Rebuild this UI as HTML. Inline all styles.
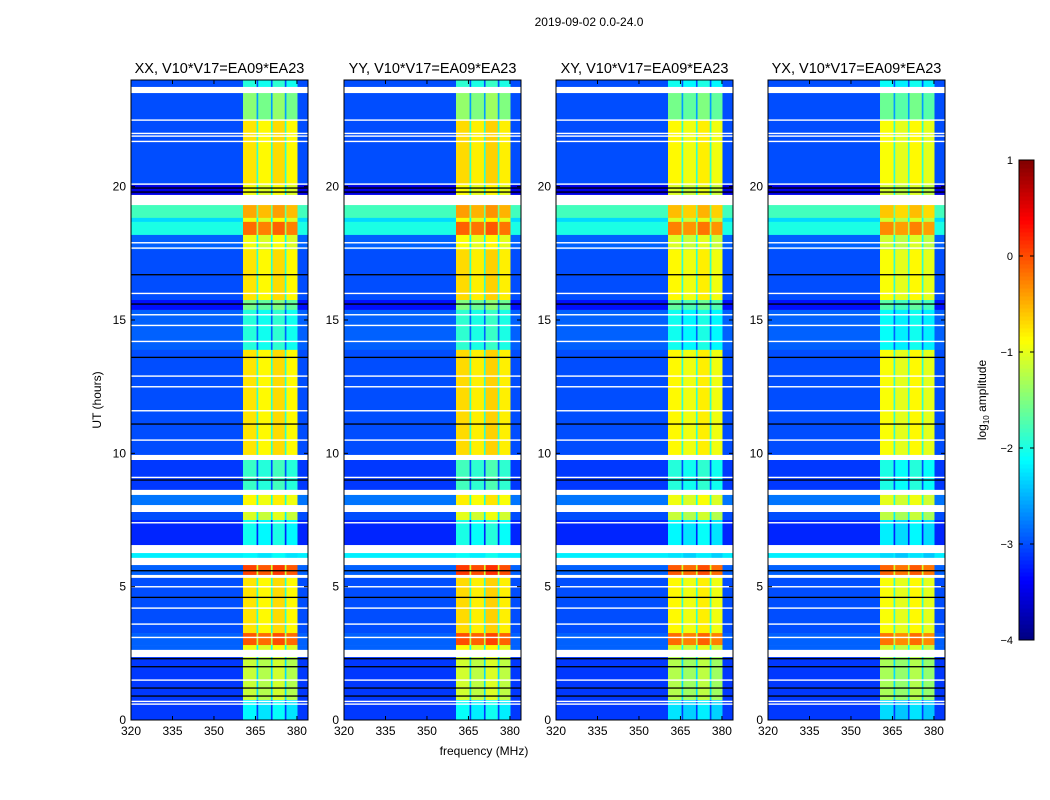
<!DOCTYPE html>
<html><head><meta charset="utf-8"><style>
body{margin:0;background:#fff;font-family:"Liberation Sans","DejaVu Sans",sans-serif}
svg{display:block}
</style></head><body>
<svg id="fig" width="1050" height="800" viewBox="0 0 1050 800" xmlns="http://www.w3.org/2000/svg" font-family="Liberation Sans, DejaVu Sans, sans-serif">
<rect width="1050" height="800" fill="#fff"/>
<text x="589" y="26" font-size="12" text-anchor="middle">2019-09-02 0.0-24.0</text>
<text x="484" y="755" font-size="12" text-anchor="middle">frequency (MHz)</text>
<text x="101" y="400" font-size="12" text-anchor="middle" transform="rotate(-90 101 400)">UT (hours)</text>
<g id="panels"></g>
<g id="cbar"></g>
</svg>
<script>
const panelTitles=["XX, V10*V17=EA09*EA23","YY, V10*V17=EA09*EA23","XY, V10*V17=EA09*EA23","YX, V10*V17=EA09*EA23"];
const panelOffset=[0,0.05,-0.1,-0.15];
const xTicks=[320,335,350,365,380];
const yTicks=[0,5,10,15,20];
const cbTicks=[1,0,-1,-2,-3,-4];
// frequency column groups: [f0,f1,kind] kind: 0=background,1=band,2=gap
const freqCols=[[320,360.5,0],[360.5,365.4,1],[365.4,366.0,2],[366.0,370.6,1],[370.6,371.2,2],[371.2,375.6,1],[375.6,376.2,2],[376.2,380.2,1],[380.2,384,0]];
const bandColOffset=[0,0.05,0,-0.05,0,0.1,0,-0.05,0];
// time segments
const segStart=[23.74,23.51,22.5,20.06,19.69,19.31,18.83,18.68,18.19,17.63,15.75,15.38,13.88,9.94,9.75,8.63,8.44,8.06,7.8,7.5,6.56,6.26,6.08,5.81,5.44,5.33,3.26,2.81,2.63,2.36,0.75,0];
const segEnd=[24,23.74,23.51,22.5,20.06,19.69,19.31,18.83,18.68,18.19,17.63,15.75,15.38,13.88,9.94,9.75,8.63,8.44,8.06,7.8,7.5,6.56,6.26,6.08,5.81,5.44,5.33,3.26,2.81,2.63,2.36,0.75];
const segBg=[-3.0,null,-3.0,-3.0,-3.5,null,-1.8,-2.3,-2.0,-2.9,-3.0,-3.3,-2.9,-3.0,null,-3.1,null,-2.8,null,-3.0,-3.2,null,-2.2,null,-2.9,null,-3.0,-2.9,-2.9,null,-3.1,-3.1];
const segBand=[-2.0,null,-1.5,-0.8,-1.0,null,-0.5,-1.0,-0.2,-1.0,-0.8,-1.6,-2.0,-0.8,null,-1.9,null,-0.9,null,-1.1,-2.1,null,-2.2,null,0.0,null,-0.8,-0.1,-1.0,null,-1.2,-2.2];
const whiteLines=[22.5,22.0,21.9,21.7,20.1,17.9,17.7,16.0,15.2,14.8,14.2,12.9,12.5,11.6,10.5,9.1,7.4,5.0,4.2,3.6,3.1,1.5,0.7,0.6];
const blackLines=[19.95,19.8,16.7,15.6,13.6,11.1,9.0,5.6,4.6,2.3,2.0,1.2,0.9];
const NS="http://www.w3.org/2000/svg";
const P={x0:[131,344,556,768],w:177,y0:80,y1:720,f0:320,f1:384,h0:0,h1:24};
function mk(t,a,p){const e=document.createElementNS(NS,t);for(const k in a)e.setAttribute(k,a[k]);if(p)p.appendChild(e);return e;}
function xs(i,f){return P.x0[i]+(f-P.f0)/(P.f1-P.f0)*P.w;}
function ys(h){return P.y1-(h-P.h0)/(P.h1-P.h0)*(P.y1-P.y0);}
function jet(v){let t=Math.max(0,Math.min(1,(v+4)/5));
 const r=Math.max(0,Math.min(1,1.5-Math.abs(4*t-3))),g=Math.max(0,Math.min(1,1.5-Math.abs(4*t-2))),b=Math.max(0,Math.min(1,1.5-Math.abs(4*t-1)));
 return `rgb(${Math.round(r*255)},${Math.round(g*255)},${Math.round(b*255)})`;}
const G=document.getElementById('panels');
for(let i=0;i<4;i++){
 const g=mk('g',{},G);
 
 
 const t=mk('text',{x:P.x0[i]+P.w/2,y:73,'font-size':14.5,'text-anchor':'middle'},g);t.textContent=panelTitles[i];
 
 
 for(let s=0;s<segStart.length;s++){
  const y=ys(segEnd[s]),h=ys(segStart[s])-y;
  for(let c=0;c<freqCols.length;c++){
   const [fa,fb,k]=freqCols[c];
   let fill='#fff';
   if(segBg[s]!==null){
    let v=k===0?segBg[s]:k===1?segBand[s]+bandColOffset[c]+panelOffset[i]:Math.max(segBg[s],segBand[s]-1.1);
    fill=jet(v);
   }
   const r=mk('rect',{x:xs(i,fa),y:y,width:xs(i,fb)-xs(i,fa)+0.3,height:h+0.3,fill:fill},g);
   
   
  }
 }
 for(const h of whiteLines){const l=mk('rect',{x:P.x0[i],y:ys(h)-0.6,width:P.w,height:1.4,fill:'#fff'},g);
  
  }
 for(const h of blackLines){const l=mk('rect',{x:P.x0[i],y:ys(h)-0.6,width:P.w,height:1.3,fill:'#000'},g);
  
  }
 const fr=mk('rect',{x:P.x0[i],y:P.y0,width:P.w,height:P.y1-P.y0,fill:'none',stroke:'#000','stroke-width':1},g);
 
 
 for(const f of xTicks){const x=xs(i,f);
  mk('line',{x1:x,x2:x,y1:P.y1,y2:P.y1-4,stroke:'#000'},g);mk('line',{x1:x,x2:x,y1:P.y0,y2:P.y0+4,stroke:'#000'},g);
  const tx=mk('text',{x:x,y:P.y1+15,'font-size':12,'text-anchor':'middle'},g);tx.textContent=f;
  
  }
 for(const h of yTicks){const y=ys(h);
  mk('line',{x1:P.x0[i],x2:P.x0[i]+4,y1:y,y2:y,stroke:'#000'},g);mk('line',{x1:P.x0[i]+P.w,x2:P.x0[i]+P.w-4,y1:y,y2:y,stroke:'#000'},g);
  const ty=mk('text',{x:P.x0[i]-5,y:y+4,'font-size':12,'text-anchor':'end'},g);ty.textContent=h;
  
  }
}
// colorbar
const C=document.getElementById('cbar');


const cb={x:1019,w:15,yTop:160,yBot:640,vTop:1,vBot:-4};
function cy(v){return cb.yBot-(v-cb.vBot)/(cb.vTop-cb.vBot)*(cb.yBot-cb.yTop);}
for(let k=0;k<120;k++){const v0=cb.vBot+k*(cb.vTop-cb.vBot)/120,v1=v0+(cb.vTop-cb.vBot)/120;
 mk('rect',{x:cb.x,y:cy(v1),width:cb.w,height:cy(v0)-cy(v1)+0.5,fill:jet((v0+v1)/2)},C);}
mk('rect',{x:cb.x,y:cb.yTop,width:cb.w,height:cb.yBot-cb.yTop,fill:'none',stroke:'#000'},C);
for(const v of cbTicks){const y=cy(v);
 mk('line',{x1:cb.x,x2:cb.x+4,y1:y,y2:y,stroke:'#000'},C);mk('line',{x1:cb.x+cb.w,x2:cb.x+cb.w-4,y1:y,y2:y,stroke:'#000'},C);
 const t=mk('text',{x:cb.x-6,y:y+4,'font-size':11,'text-anchor':'end'},C);t.textContent=v<0?'\u2212'+(-v):String(v);
 
 }
const lab=mk('text',{x:986,y:400,'font-size':12,'text-anchor':'middle',transform:'rotate(-90 986 400)'},C);


lab.innerHTML='log<tspan font-size="8" dy="3">10</tspan><tspan dy="-3"> amplitude</tspan>';
</script>
</body></html>
